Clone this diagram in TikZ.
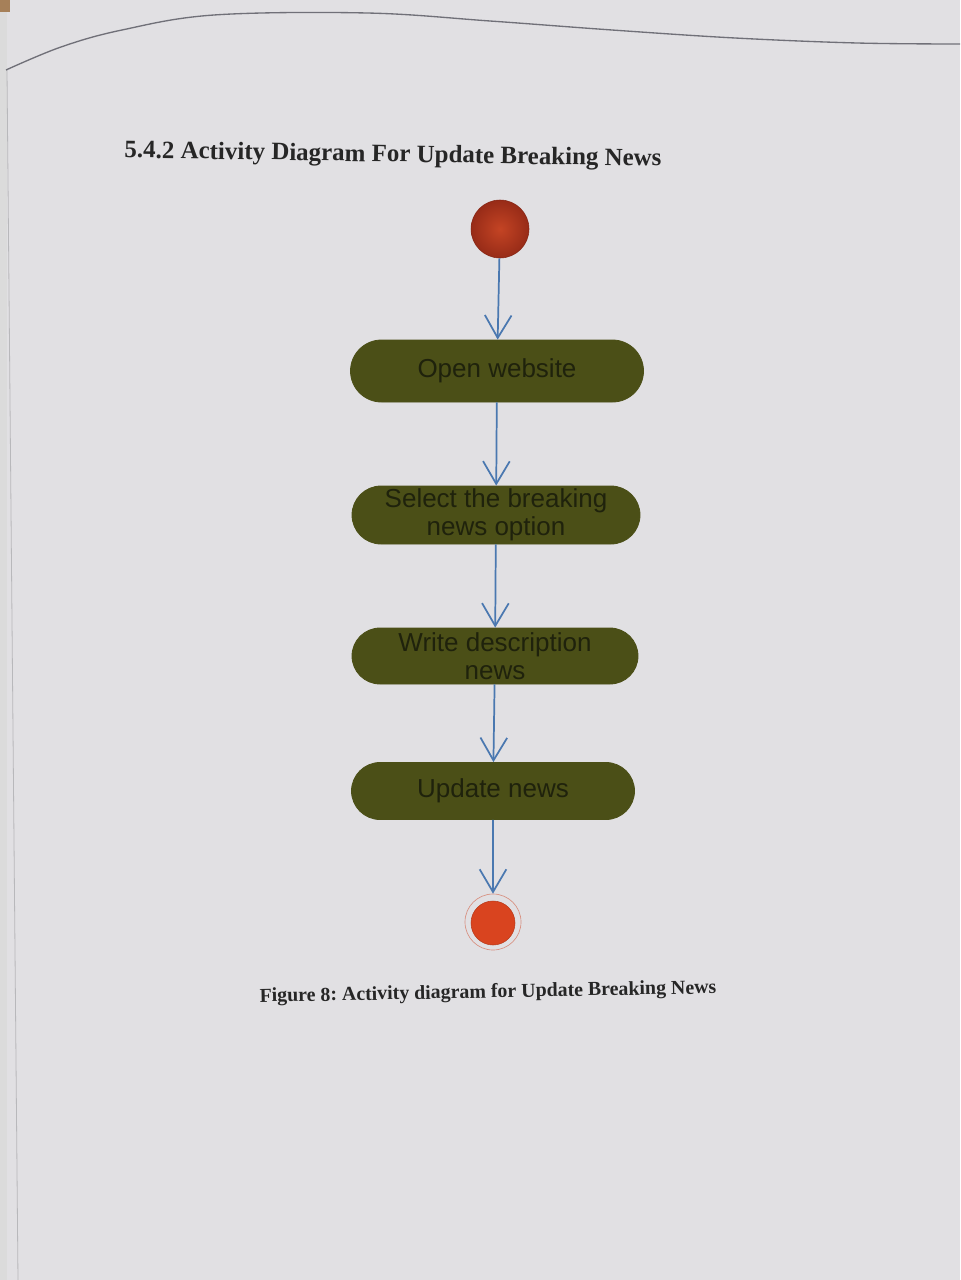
\documentclass[tikz,border=0pt]{standalone}
\usepackage{fontspec}
\setmainfont{Liberation Serif}
\newfontfamily\boxfont{Liberation Sans}
\usetikzlibrary{arrows.meta,shapes.misc}
\frenchspacing
\definecolor{pagebg}{HTML}{E1E0E3}
\definecolor{olive}{HTML}{4B4F17}
\definecolor{olivetext}{HTML}{1F220C}
\definecolor{flowblue}{HTML}{4A78B0}
\definecolor{startred}{HTML}{A8301A}
\definecolor{startlight}{HTML}{C44424}
\definecolor{endred}{HTML}{D9441F}
\definecolor{ringred}{HTML}{D89080}
\definecolor{edgegray}{HTML}{707078}
\tikzset{
  activity/.style={rounded rectangle, fill=olive, draw=olive, line width=0.6pt,
    text=olivetext, font=\boxfont\fontsize{19.5}{21}\selectfont, align=center, inner sep=0pt},
  startnode/.style={circle, inner sep=0pt, minimum size=43.5pt, inner color=startlight, outer color=startred!90!black, draw=startred!80!black, line width=0.4pt},
  endring/.style={circle, inner sep=0pt, minimum size=42pt, draw=ringred, line width=0.5pt},
  endnode/.style={circle, inner sep=0pt, minimum size=33pt, fill=endred, draw=endred!85!black, line width=0.4pt},
  flow/.style={draw=flowblue, line width=1.3pt, -{Straight Barb[length=17pt,width=20pt,line width=1.3pt]}},
  heading/.style={font=\bfseries\fontsize{18.7}{22}\selectfont, text=black!85, inner sep=0pt},
  caption/.style={font=\bfseries\fontsize{14.9}{18}\selectfont, text=black!85, inner sep=0pt}
}
\begin{document}
\begin{tikzpicture}[x=0.75pt,y=-0.75pt]
  % page
  \fill[pagebg] (0,0) rectangle (960,1280);
  \useasboundingbox (0,0) rectangle (960,1280);
  \fill[black!14] (0,0) rectangle (7,1280);
  \fill[brown!60!gray] (0,0) rectangle (10,12);
  \draw[edgegray!50, line width=0.6pt] (7,70) -- (18,1280);
  \draw[edgegray, line width=1pt] plot[smooth, tension=0.6] coordinates
    {(6,70) (61,47) (122,30) (214,15) (367,13) (490,21) (612,30) (735,38) (857,43) (960,44)};

  % title and caption
  \node[heading, rotate=-0.9] (title) at (393,156) {5.4.2 Activity Diagram For Update Breaking News};
  \node[caption, rotate=1.1] (cap) at (488,993) {Figure 8: Activity diagram for Update Breaking News};

  % nodes
  \node[startnode] (start) at (500,229) {};
  \node[activity, minimum width=219.75pt, minimum height=46.5pt] (b1) at (497,371) {Open website};
  \node[activity, minimum width=216pt, minimum height=43.5pt] (b2) at (496,515) {Select the breaking\\news option};
  \node[activity, minimum width=214.5pt, minimum height=42pt] (b3) at (495,656) {Write description\\news};
  \node[activity, minimum width=212.25pt, minimum height=42.75pt] (b4) at (493,791) {Update news};
  \node[endring] (endo) at (493,922) {};
  \node[endnode] (endi) at (493,923) {};

  % connectors
  \draw[flow] (start) -- (b1);
  \draw[flow] (b1) -- (b2);
  \draw[flow] (b2) -- (b3);
  \draw[flow] (b3) -- (b4);
  \draw[flow] (b4) -- (endo);
\end{tikzpicture}
\end{document}
